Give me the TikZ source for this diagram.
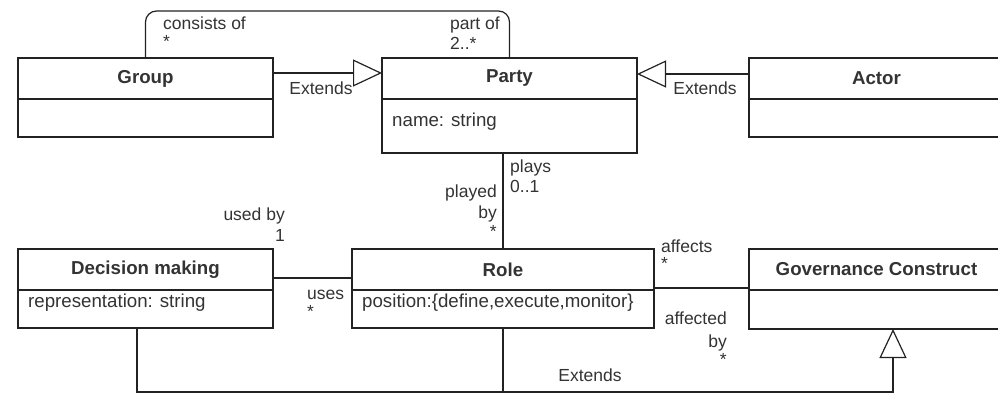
\documentclass[tikz,border=0pt]{standalone}
\usepackage{fontspec}
\setmainfont{Liberation Sans}
\usetikzlibrary{arrows.meta}
\definecolor{lc}{HTML}{222222}
\definecolor{tc}{HTML}{333333}
\begin{document}
\begin{tikzpicture}[x=1pt,y=-1pt,
  hdr/.style={draw=lc, line width=1.2pt, inner sep=0pt, outer sep=0pt, anchor=north west,
    minimum height=41pt, text=tc, font=\fontsize{18.7}{22}\selectfont\bfseries},
  bodybox/.style={draw=lc, line width=1.2pt, inner sep=0pt, outer sep=0pt, anchor=north west},
  attr/.style={anchor=west, inner sep=0pt, text=tc, text height=13.5pt, text depth=4pt,
    font=\fontsize{18.7}{22}\selectfont},
  lbl/.style={inner sep=0pt, text=tc, text height=13pt, text depth=4pt,
    font=\fontsize{17.5}{20}\selectfont},
  conn/.style={draw=lc, line width=1.2pt},
  inh/.style={conn, -{Triangle[open, length=29pt, width=27pt, line width=1.2pt]}}
]
\useasboundingbox (0,0) rectangle (998,394);
\clip (0,0) rectangle (998,394);

% classes
\node[hdr, minimum width=255pt] (grouph) at (18,58) {Group};
\node[bodybox, minimum width=255pt, minimum height=38pt] (groupb) at (18,99) {};

\node[hdr, minimum width=255pt] (partyh) at (382,58) {Party};
\node[bodybox, minimum width=255pt, minimum height=54pt] (partyb) at (382,99) {};
\node[attr] (partya) at (392,122) {name: string};

\node[hdr, minimum width=255pt] (actorh) at (749,58) {Actor};
\node[bodybox, minimum width=255pt, minimum height=38pt] (actorb) at (749,99) {};

\node[hdr, minimum width=255pt] (dech) at (18,249) {Decision making};
\node[bodybox, minimum width=255pt, minimum height=38pt] (decb) at (18,290) {};
\node[attr] (deca) at (28,303) {representation: string};

\node[hdr, minimum width=302pt] (roleh) at (352,249) {Role};
\node[bodybox, minimum width=302pt, minimum height=38pt] (roleb) at (352,290) {};
\node[attr] (rolea) at (362,303) {position:\{define,execute,monitor\}};

\node[hdr, minimum width=255pt] (govh) at (749,249) {Governance Construct};
\node[bodybox, minimum width=255pt, minimum height=39pt] (govb) at (749,290) {};

% connectors
\draw[inh] ([yshift=5.5pt]grouph.east) -- ([yshift=5.5pt]partyh.west);
\draw[inh] ([yshift=4.5pt]actorh.west) -- ([yshift=4.5pt]partyh.east);
\draw[conn, rounded corners=11pt] (grouph.north) -- ++(0,-47) -| (partyh.north);
\draw[conn] (roleh.north) -- (roleh.north |- partyb.south);
\draw[conn] ([yshift=-8.5pt]dech.east) -- ([yshift=-8.5pt]roleh.west);
\draw[conn] ([yshift=2pt]roleh.south east) -- ([yshift=2pt]govh.south west);
\draw[inh] ([xshift=-8.5pt]decb.south) -- ++(0,64) -| ([xshift=16.5pt]govb.south);
\draw[conn] (roleb.south) -- ++(0,64);

% labels
\node[lbl, anchor=west] (l1) at (163,25) {consists of};
\node[lbl, anchor=west] (l2) at (163,43) {*};
\node[lbl, anchor=west] (l3) at (450,25) {part of};
\node[lbl, anchor=west] (l4) at (450,45) {2..*};
\node[lbl] (l5) at (321,90) {Extends};
\node[lbl] (l6) at (705,90) {Extends};
\node[lbl, anchor=west] (l7) at (510,168) {plays};
\node[lbl, anchor=west] (l8) at (510,188) {0..1};
\node[lbl, anchor=east] (l9) at (497,193) {played};
\node[lbl, anchor=east] (l10) at (497,214) {by};
\node[lbl, anchor=east] (l11) at (497,233) {*};
\node[lbl, anchor=east] (l12) at (285,216) {used by};
\node[lbl, anchor=east] (l13) at (285,237) {1};
\node[lbl, anchor=west] (l14) at (307,295) {uses};
\node[lbl, anchor=west] (l15) at (307,313) {*};
\node[lbl, anchor=west] (l16) at (661,248) {affects};
\node[lbl, anchor=west] (l17) at (661,265) {*};
\node[lbl, anchor=east] (l18) at (727,320) {affected};
\node[lbl, anchor=east] (l19) at (727,343) {by};
\node[lbl, anchor=east] (l20) at (727,361) {*};
\node[lbl] (l21) at (590,377) {Extends};
\end{tikzpicture}
\end{document}
